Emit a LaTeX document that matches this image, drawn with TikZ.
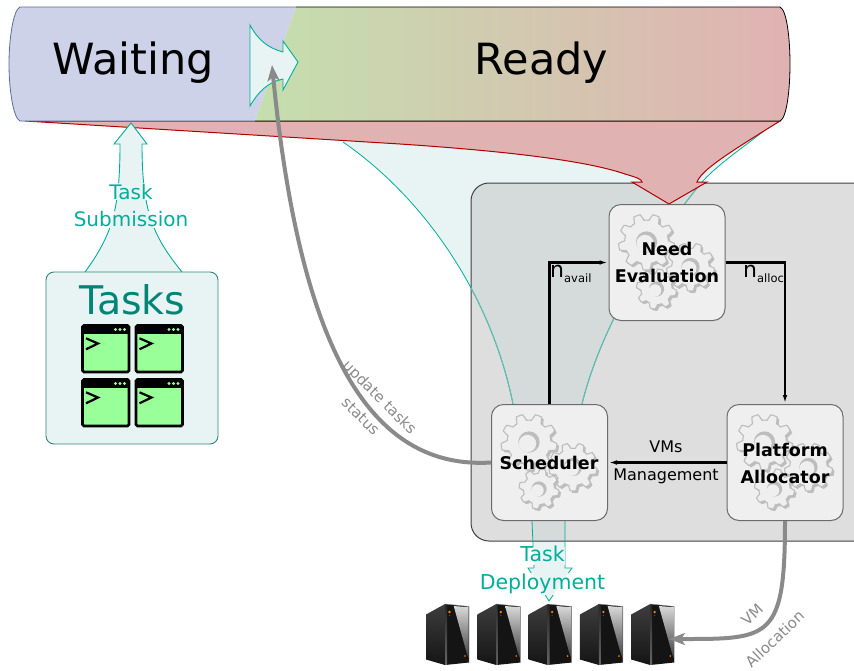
\documentclass[tikz,border=0pt]{standalone}
\usepackage{fontspec}
\setmainfont{DejaVu Sans}
\usetikzlibrary{arrows.meta,shapes.geometric}
\definecolor{waitfill}{HTML}{CDD2E8}
\definecolor{waitline}{HTML}{5A6AA0}
\definecolor{readyl}{HTML}{C4DFAE}
\definecolor{readyr}{HTML}{E0B2B2}
\definecolor{redline}{HTML}{B00000}
\definecolor{tealline}{HTML}{00AE9A}
\definecolor{softteal}{HTML}{66BDB0}
\definecolor{paleteal}{HTML}{E8F4F4}
\definecolor{inpanel}{HTML}{D5DBDB}
\definecolor{tasktxt}{HTML}{008577}
\definecolor{panel}{HTML}{DEDEDE}
\definecolor{boxfill}{HTML}{EFEFEF}
\definecolor{gearc}{HTML}{BDBDBD}
\definecolor{grayarrow}{HTML}{8A8A8A}
\definecolor{termgreen}{HTML}{99FF99}
\newcommand{\gearplot}[5]{% cx cy r teeth, colour style
  \path[#5] plot[domain=0:360,samples=#4*12+1,variable=\t]
   ({#1+#3*(0.89+0.11*max(-1,min(1,2*sin(#4*\t))))*cos(\t)},
    {#2+#3*(0.89+0.11*max(-1,min(1,2*sin(#4*\t))))*sin(\t)}) -- cycle;}
\newcommand{\onegear}[4]{%
  \gearplot{#1+2}{#2+2}{#3}{#4}{fill=gearc}
  \gearplot{#1}{#2}{#3}{#4}{fill=boxfill,draw=gearc,line width=1.1pt}
  \fill[gearc] (#1,#2) circle ({0.38*#3});
  \fill[boxfill] ({#1-1.5},{#2+1.5}) circle ({0.31*#3});}
\newcommand{\flowshape}{(343,142) .. controls (420,195) and (490,290) .. (513,404) -- (582,404)
  .. controls (600,330) and (650,245) .. (702,182) .. controls (720,162) and (750,143) .. (775,122) -- cycle}
\newcommand{\deployshape}{(532,521) -- (534,568) -- (528,568) -- (549,601) -- (572,568) -- (565,568) -- (565,521) -- cycle}
\newcommand{\panelshape}{(900,183) -- (471,183) -- (471,541) -- (900,541)}
\tikzset{
  x=1pt,y=-1pt,
  barlabel/.style={font=\fontsize{43}{46}\selectfont,text=black,inner sep=0pt},
  engine/.style={rounded corners=12pt,draw=gray!85!black,fill=boxfill,line width=1pt,
    minimum width=116pt,minimum height=116pt,inner sep=0pt,align=center},
  enginetxt/.style={align=center,inner sep=0pt,
    font=\bfseries\fontsize{17.5}{27}\selectfont},
  flow/.style={draw=black,line width=2.3pt,-{Latex[length=9pt,width=4.5pt]}},
  thick gray/.style={draw=grayarrow,line width=4pt,-{Stealth[length=16pt,width=12pt,inset=4pt]}},
  tealarrow/.style={draw=tealline,line width=0.9pt,line join=miter},
  teallabel/.style={text=tealline,align=center,font=\fontsize{20.5}{27.5}\selectfont,inner sep=0pt},
  smalllabel/.style={text=black,align=center,font=\fontsize{16}{28}\selectfont,inner sep=0pt},
  graylabel/.style={text=grayarrow,align=center,font=\fontsize{15}{27}\selectfont,inner sep=0pt},
  graylabelb/.style={text=grayarrow,align=center,font=\fontsize{15}{33}\selectfont,inner sep=0pt},
  nlabel/.style={text=black,inner sep=0pt,anchor=base west,font=\fontsize{22}{24}\selectfont},
  gears/.pic={
    \onegear{-20.5}{-20.5}{28}{9}
    \onegear{23.5}{4.5}{24}{9}
    \onegear{-10.5}{26.5}{20}{8}
  },
  terminal/.pic={
    \fill[termgreen,draw=black,line width=2.6pt,rounded corners=1.5pt] (0,0) rectangle (46.5,46.5);
    \fill[black] (0,0) rectangle (46.5,8);
    \foreach \d in {33,37.5,42}{\fill[termgreen] (\d,4) circle (1.6);}
    \draw[black,line width=2.2pt,line join=miter] (3.5,12.8) -- (15.5,18) -- (3.5,23.8);
  },
  server/.pic={
    \shade[top color=black!76,bottom color=black!92] (0,10.5) -- (19,0) -- (19,61) -- (0,55.5) -- cycle;
    \fill[black!92] (19,0) -- (43,2.5) -- (43,58.5) -- (19,61) -- cycle;
    \shade[top color=black!85,bottom color=black!60] (19,0) -- (21,0.2) -- (21,60.8) -- (19,61) -- cycle;
    \shade[top color=white!85!black,bottom color=black!75] (27.7,2) -- (42.7,3.2) -- (42.7,54) -- (41,50) -- cycle;
    \draw[black!45,line width=0.4pt] (19,0) -- (43,2.5) -- (43,58.5);
    \fill[orange] (23.5,8) circle (1.3);
    \fill[orange] (39,52) circle (0.9);
    \fill[orange!60!black] (23.5,11.5) circle (0.6);
  }
}
\begin{document}
\begin{tikzpicture}
\useasboundingbox (0,0) rectangle (854,670);
% pale flow shapes under the panel
\fill[paleteal] \flowshape;
\fill[paleteal] \deployshape;
% control panel
\fill[panel,rounded corners=18pt] \panelshape -- cycle;
\begin{scope}
  \clip[rounded corners=18pt] \panelshape -- cycle;
  \fill[inpanel] \flowshape;
  \fill[inpanel] \deployshape;
\end{scope}
\draw[black!75,line width=1pt,rounded corners=18pt] \panelshape;
% teal outlines
\draw[tealline,line width=0.8pt] (343,142) .. controls (420,195) and (490,290) .. (513,404);
\draw[tealline,line width=0.8pt] (582,404) .. controls (600,330) and (650,245) .. (702,182) .. controls (720,162) and (750,143) .. (775,122);
\begin{scope}
  \clip[rounded corners=18pt] \panelshape -- cycle;
  \draw[softteal,line width=1pt] (343,142) .. controls (420,195) and (490,290) .. (513,404);
  \draw[softteal,line width=1pt] (582,404) .. controls (600,330) and (650,245) .. (702,182) .. controls (720,162) and (750,143) .. (775,122);
\end{scope}
\begin{scope}[even odd rule]
  \clip (0,0) rectangle (854,670) (520,547) rectangle (565,565) (480,573) rectangle (605,595);
  \draw[tealline,line width=0.8pt] (532,521) -- (534,568) -- (528,568) -- (549,601) -- (572,568) -- (565,568) -- (565,521);
\end{scope}
\node[teallabel] (deploy) at (542.5,570) {Task\\Deployment};
% red funnel
\path[fill=readyr,draw=redline,line width=1pt,line join=miter]
  (25,121) -- (400,144) .. controls (520,152) and (590,162) .. (625,174)
  .. controls (635,177) and (642,179) .. (642,182) -- (632,182) -- (669,204) -- (707,182) -- (697,182)
  .. controls (702,170) and (725,155) .. (780,121) -- cycle;
% status bar
\path[fill=waitfill] (296,7) -- (20,7) .. controls (13,10) and (9,40) .. (9,64) .. controls (9,88) and (13,118) .. (20,121) -- (255,121) -- cycle;
\draw[waitline,line width=0.8pt] (296,7) -- (20,7) .. controls (13,10) and (9,40) .. (9,64) .. controls (9,88) and (13,118) .. (20,121) -- (255,121);
\shade[left color=readyl,right color=readyr] (296,7) -- (780,7) .. controls (787,10) and (790,40) .. (790,64) .. controls (790,88) and (787,118) .. (780,121) -- (255,121) -- cycle;
\draw[black,line width=0.8pt] (296,7) -- (780,7) .. controls (787,10) and (790,40) .. (790,64) .. controls (790,88) and (787,118) .. (780,121) -- (255,121);
\node[barlabel] (waiting) at (133.5,63) {Waiting};
\node[barlabel] (ready) at (541.5,63) {Ready};
% arrow waiting -> ready
\path[tealarrow,fill=paleteal] (250,25) .. controls (258,40) and (268,48) .. (283,52) -- (283,41) -- (298,62) -- (283,90) -- (283,79)
  .. controls (268,82) and (258,92) .. (250,106) -- cycle;
\coordinate (statusin) at (272,65);
% task submission arrow
\fill[paleteal] (85,272) .. controls (112,235) and (120,210) .. (120,144) -- (114,144) -- (131,123) -- (147,144) -- (142,144)
  .. controls (142,210) and (152,235) .. (182,272) -- cycle;
\begin{scope}[even odd rule]
  \clip (0,0) rectangle (854,670) (109,183) rectangle (153,200) (73,211) rectangle (189,228);
  \draw[tealarrow] (85,272) .. controls (112,235) and (120,210) .. (120,144) -- (114,144) -- (131,123) -- (147,144) -- (142,144)
  .. controls (142,210) and (152,235) .. (182,272);
\end{scope}
\node[teallabel,font=\fontsize{20}{27.5}\selectfont] (submit) at (131,205.5) {Task\\Submission};
% tasks box
\node[draw=tasktxt!60!gray,line width=0.9pt,fill=paleteal,rounded corners=8pt,minimum width=172pt,minimum height=172pt,inner sep=0pt] (tasks) at (132,358) {};
\node[text=tasktxt,font=\fontsize{39.5}{42}\selectfont,inner sep=0pt] (taskstitle) at (132.5,300) {Tasks};
\pic at (82.5,325.5) {terminal};
\pic at (136,325.5) {terminal};
\pic at (82.5,379.5) {terminal};
\pic at (136,379.5) {terminal};
% engines
\node[engine] (need) at (667,262.5) {};
\node[engine] (sched) at (549.5,462.5) {};
\node[engine] (plat) at (785,462.5) {};
\pic at (need.center) {gears};
\pic at (sched.center) {gears};
\pic at (plat.center) {gears};
\node[enginetxt] (needtxt) at (667,262) {Need\\Evaluation};
\node[enginetxt] (schedtxt) at (549,463) {Scheduler};
\node[enginetxt] (plattxt) at (785,463) {Platform\\Allocator};
% connectors
\draw[flow] (sched.north) |- (need.west);
\draw[flow] (need.east) -| (plat.north);
\draw[flow] (plat.west) -- (sched.east);
\node[nlabel] (navail) at (550,277) {n\raisebox{-5pt}{\fontsize{11.5}{12}\selectfont avail}};
\node[nlabel] (nalloc) at (743,277) {n\raisebox{-5pt}{\fontsize{11.5}{12}\selectfont alloc}};
\node[smalllabel] (vms) at (666,462) {VMs\\Management};
% servers
\pic at (426,604) {server};
\pic at (477.3,604) {server};
\pic at (528.6,604) {server};
\pic at (579.9,604) {server};
\pic at (631.2,604) {server};
\coordinate (srv) at (669,639);
% thick gray arrows
\draw[thick gray] (sched.west) .. controls (370,470) and (300,350) .. (statusin);
\draw[thick gray] (plat.south) .. controls (785,640) and (770,639) .. (srv);
\node[graylabel,rotate=-45] (upd) at (370.5,406.5) {update tasks\\status};
\node[graylabelb,rotate=43.5] (alloc) at (763.5,627) {VM\\Allocation};
\end{tikzpicture}
\end{document}
